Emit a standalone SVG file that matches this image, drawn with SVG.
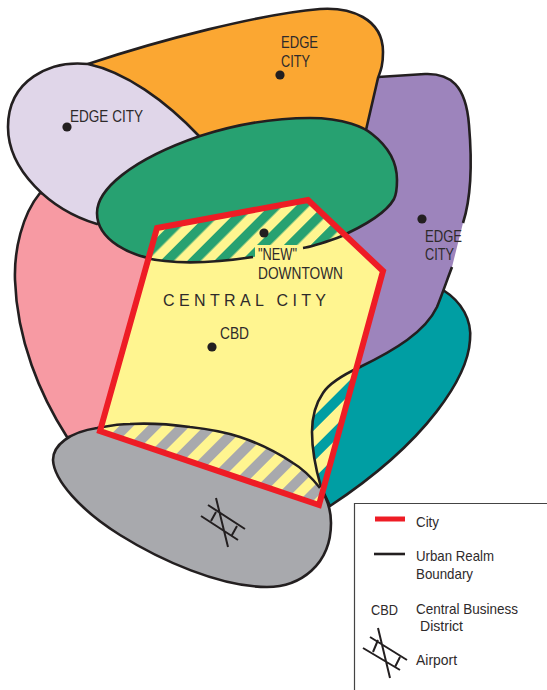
<svg xmlns="http://www.w3.org/2000/svg" width="547" height="690" viewBox="0 0 547 690">
<style>
.o{stroke:#231f20;stroke-width:2.6;stroke-linejoin:round;stroke-linecap:butt}
.l{fill:none;stroke:#231f20;stroke-width:2.6;stroke-linecap:butt}
.a{fill:none;stroke:#231f20;stroke-width:2}
.d{fill:#231f20}
text{font-family:"Liberation Sans",Arial,sans-serif;font-size:16px;fill:#2e2a2b}
.k{font-size:15px}
</style>
<defs>
<path id="cityShape" d="M157,228 L308,200 L383,271 L319,505 L100,431 Z"/>
<path id="greenShape" d="M97,213 C97,190 130,160 200,136 C240,123 280,118 310,118 C345,118 365,128 372,134 C390,148 397,165 397,180 C397,190 396,195 394,199 C385,215 360,228 337,238 C320,244 310,247 303,248 C285,253 270,256 253,257 C220,262 190,264 165,261 C130,257 97,240 97,213 Z"/>
<path id="tealShape" d="M443,290 C462,302 472,320 470,340 C468,375 430,440 330,506 L321,487 C316,470 312,450 312,432 C312,420 314,406 323,393 C330,382 345,374 360,367 L400,320 Z"/>
<path id="grayShape" d="M97,428 C70,432 53,445 53,460 C54,480 80,510 120,535 C160,560 220,587 267,587 C300,587 331,565 331,523 C331,510 327,498 320,488 C312,478 305,470 293,463 C278,453 258,443 240,437 C225,432 208,429 190,427 C168,424 148,423 130,424 C118,424 108,426 97,428 Z"/>
<pattern id="hG" width="19" height="19" patternUnits="userSpaceOnUse" patternTransform="translate(18.3 0) rotate(45)"><rect width="19" height="19" fill="#fff590"/><rect width="9.5" height="19" fill="#27a171"/></pattern>
<pattern id="hT" width="22" height="22" patternUnits="userSpaceOnUse" patternTransform="translate(14.5 0) rotate(45)"><rect width="22" height="22" fill="#fff590"/><rect width="10" height="22" fill="#009ea3"/></pattern>
<pattern id="hA" width="20" height="20" patternUnits="userSpaceOnUse" patternTransform="translate(8 0) rotate(45)"><rect width="20" height="20" fill="#fff590"/><rect width="10" height="20" fill="#a8a9ad"/></pattern>
<clipPath id="cc"><use href="#cityShape"/></clipPath>
</defs>

<g id="realm-south-west"><path class="o" fill="#f79aa3" d="M40,193 C22,215 14,250 15,280 C17,340 40,395 67,437 L200,430 L200,200 Z"/></g>
<g id="realm-south-east"><use href="#tealShape" class="o" fill="#009ea3"/></g>
<g id="realm-east">
<path fill="#9d84bc" d="M378,77 L425,74 C450,73 466,85 469,125 C472,160 472,195 463,223 L452,267 C447,280 443,292 437,307 C425,332 395,350 360,367 L340,250 L340,150 Z"/>
<path class="l" d="M378,77 L425,74 C450,73 466,85 469,125 C472,160 472,195 463,223"/>
<path class="l" d="M452,267 C447,280 443,292 437,307 C425,332 395,350 360,367"/>
</g>
<g id="realm-north"><path class="o" fill="#fba732" d="M88,64 C160,40 260,14 320,9 C350,7 383,18 383,52 C383,65 381,70 378,78 L366,130 L200,137 Z"/></g>
<g id="realm-north-west"><path class="o" fill="#e0d6e9" d="M88,64 C50,60 8,80 8,127 C8,170 50,210 97,224 L200,200 L200,137 C165,100 125,72 88,64 Z"/></g>
<g id="realm-green"><use href="#greenShape" class="o" fill="#27a171"/></g>
<g id="realm-gray"><use href="#grayShape" class="o" fill="#a8a9ad"/></g>

<g id="central-city">
<use href="#cityShape" fill="#fff590"/>
<g clip-path="url(#cc)">
<use href="#greenShape" fill="url(#hG)"/>
<use href="#tealShape" fill="url(#hT)"/>
<use href="#grayShape" fill="url(#hA)"/>
<rect x="255" y="245" width="46" height="22" fill="#fff590"/>
<path class="l" d="M100,227 C115,250 135,258 165,261 C190,264 220,262 253,257"/>
<path class="l" d="M303,248 C310,247 320,244 337,238 C345,235 350,233 360,228"/>
<path class="l" d="M360,367 C345,374 330,382 323,393 C314,406 312,420 312,432 C312,450 316,470 321,487"/>
<path class="l" d="M97,428 C108,426 118,424 130,424 C148,423 168,424 190,427 C208,429 225,432 240,437 C258,443 278,453 293,463 C305,470 312,478 320,488"/>
</g>
<use href="#cityShape" fill="none" stroke="#ee1c25" stroke-width="6" stroke-linejoin="miter"/>
</g>

<g id="labels">
<circle class="d" cx="67" cy="127" r="4.6"/>
<text x="70" y="122" textLength="73" lengthAdjust="spacingAndGlyphs">EDGE CITY</text>
<circle class="d" cx="280" cy="75" r="4.6"/>
<text x="281" y="48" textLength="37" lengthAdjust="spacingAndGlyphs">EDGE</text>
<text x="281" y="67" textLength="29" lengthAdjust="spacingAndGlyphs">CITY</text>
<circle class="d" cx="422" cy="219" r="4.6"/>
<text x="425" y="242" textLength="37" lengthAdjust="spacingAndGlyphs">EDGE</text>
<text x="425" y="260" textLength="29" lengthAdjust="spacingAndGlyphs">CITY</text>
<circle class="d" cx="264" cy="233" r="4.6"/>
<text x="258" y="260" textLength="39" lengthAdjust="spacingAndGlyphs">"NEW"</text>
<text x="258" y="279" textLength="85" lengthAdjust="spacingAndGlyphs">DOWNTOWN</text>
<text x="163" y="306" textLength="163">CENTRAL CITY</text>
<circle class="d" cx="212" cy="347" r="4.6"/>
<text x="220" y="339" textLength="29" lengthAdjust="spacingAndGlyphs">CBD</text>
</g>

<g id="airport">
<path class="a" d="M216,498 L228,547 M208,505 L245,529 M201,516 L238,540 M216,512 L211,521 M237,526 L232,535"/>
</g>

<g id="legend">
<path d="M354.5,690 V503.5 H547" fill="none" stroke="#444" stroke-width="1.2"/>
<path d="M375,519 H405" stroke="#ee1c25" stroke-width="5"/>
<path d="M374,554 H405" stroke="#231f20" stroke-width="2.6"/>
<text class="k" x="416" y="527" textLength="23" lengthAdjust="spacingAndGlyphs">City</text>
<text class="k" x="416" y="561" textLength="78" lengthAdjust="spacingAndGlyphs">Urban Realm</text>
<text class="k" x="416" y="579" textLength="57" lengthAdjust="spacingAndGlyphs">Boundary</text>
<text class="k" x="371" y="615" textLength="27" lengthAdjust="spacingAndGlyphs">CBD</text>
<text class="k" x="416" y="614" textLength="102" lengthAdjust="spacingAndGlyphs">Central Business</text>
<text class="k" x="420" y="631" textLength="43" lengthAdjust="spacingAndGlyphs">District</text>
<text class="k" x="416" y="665" textLength="41" lengthAdjust="spacingAndGlyphs">Airport</text>
<path class="a" d="M378,628 L390,678 M370,637 L407,660 M363,648 L400,670 M378,640 L373,652 M400,657 L395,667"/>
</g>
</svg>
